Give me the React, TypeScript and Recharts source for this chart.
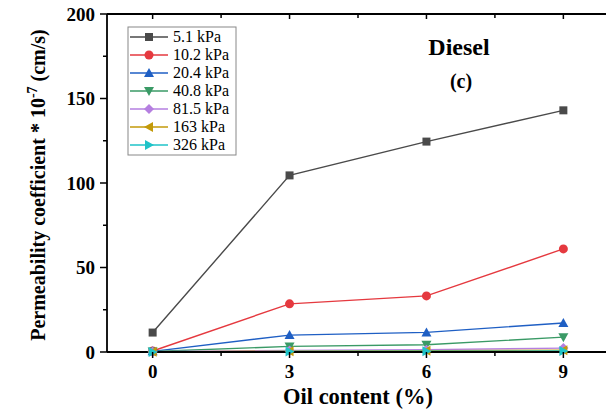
import React from "react";
import { LineChart, Line, XAxis, YAxis, Customized } from "recharts";

// oil content (%) on the x axis
const oilContent = [0, 3, 6, 9];

// permeability coefficient * 1e-7 cm/s, one array per consolidation pressure
const k5_1 = [11.5, 104.5, 124.5, 143];
const k10_2 = [0.6, 28.5, 33.2, 61];
const k20_4 = [0.4, 10, 11.6, 17.2];
const k40_8 = [0.3, 3.3, 4.3, 8.8];
const k81_5 = [0.2, 0.9, 1.4, 2.3];
const k163 = [0.1, 0.5, 0.8, 1.1];
const k326 = [0.05, 0.3, 0.4, 0.6];

const xTicks = [0, 1.5, 3, 4.5, 6, 7.5, 9];
const yTicks = [0, 25, 50, 75, 100, 125, 150, 175, 200];

type Shape = "square" | "circle" | "up" | "down" | "diamond" | "left" | "right";

const series: { key: string; name: string; color: string; shape: Shape; values: number[] }[] = [
  { key: "p1", name: "5.1 kPa", color: "#4a4a4a", shape: "square", values: k5_1 },
  { key: "p2", name: "10.2 kPa", color: "#e5393f", shape: "circle", values: k10_2 },
  { key: "p3", name: "20.4 kPa", color: "#1f5fc4", shape: "up", values: k20_4 },
  { key: "p4", name: "40.8 kPa", color: "#3a9a66", shape: "down", values: k40_8 },
  { key: "p5", name: "81.5 kPa", color: "#b57fe0", shape: "diamond", values: k81_5 },
  { key: "p6", name: "163 kPa", color: "#c39a0a", shape: "left", values: k163 },
  { key: "p7", name: "326 kPa", color: "#1fc3c8", shape: "right", values: k326 },
];

const data = oilContent.map((x, i) => {
  const row: Record<string, number> = { x };
  series.forEach((s) => (row[s.key] = s.values[i]));
  return row;
});

const serif = { fontFamily: "'Liberation Serif', 'Times New Roman', serif" };

const Marker = ({ shape, cx, cy, color }: { shape: Shape; cx: number; cy: number; color: string }) => {
  switch (shape) {
    case "square":
      return <rect x={cx - 4} y={cy - 4} width={8} height={8} fill={color} />;
    case "circle":
      return <circle cx={cx} cy={cy} r={4.5} fill={color} />;
    case "up":
      return <polygon points={`${cx},${cy - 5} ${cx + 5},${cy + 4} ${cx - 5},${cy + 4}`} fill={color} />;
    case "down":
      return <polygon points={`${cx},${cy + 5} ${cx + 5},${cy - 4} ${cx - 5},${cy - 4}`} fill={color} />;
    case "diamond":
      return <polygon points={`${cx},${cy - 5} ${cx + 5},${cy} ${cx},${cy + 5} ${cx - 5},${cy}`} fill={color} />;
    case "left":
      return <polygon points={`${cx - 5},${cy} ${cx + 4},${cy - 5} ${cx + 4},${cy + 5}`} fill={color} />;
    case "right":
      return <polygon points={`${cx + 5},${cy} ${cx - 4},${cy - 5} ${cx - 4},${cy + 5}`} fill={color} />;
  }
  return null;
};

const isMajorX = (v: number) => v % 3 === 0;
const isMajorY = (v: number) => v % 50 === 0;

const BottomTick = ({ x, y, payload }: any) => {
  const major = isMajorX(payload.value);
  return (
    <g>
      <line x1={x} x2={x} y1={y} y2={y + (major ? 6 : 4)} stroke="#000" strokeWidth={1.5} />
      {major && (
        <text x={x} y={y + 26} textAnchor="middle" style={serif} fontWeight="bold" fontSize={19} fill="#000">
          {payload.value}
        </text>
      )}
    </g>
  );
};

const TopTick = ({ x, y, payload }: any) => (
  <line x1={x} x2={x} y1={y} y2={y + (isMajorX(payload.value) ? 5 : 4)} stroke="#000" strokeWidth={1.5} />
);

const LeftTick = ({ x, y, payload }: any) => {
  const major = isMajorY(payload.value);
  return (
    <g>
      <line x1={x - (major ? 7 : 4)} x2={x} y1={y} y2={y} stroke="#000" strokeWidth={1.5} />
      {major && (
        <text x={x - 12} y={y + 6.5} textAnchor="end" style={serif} fontWeight="bold" fontSize={19} fill="#000">
          {payload.value}
        </text>
      )}
    </g>
  );
};

const RightTick = ({ x, y, payload }: any) => (
  <line x1={x - (isMajorY(payload.value) ? 5 : 4)} x2={x} y1={y} y2={y} stroke="#000" strokeWidth={1.5} />
);

// axis titles, panel caption and the boxed legend
const Annotations = () => (
  <g style={serif} fill="#000">
    <text transform="translate(45,185) rotate(-90)" textAnchor="middle" fontWeight="bold" fontSize={20} style={serif}>
      Permeability coefficient * 10
      <tspan dy={-8} fontSize={14}>-7</tspan>
      <tspan dy={8}> (cm/s)</tspan>
    </text>
    <text x={358} y={404} textAnchor="middle" fontWeight="bold" fontSize={22.5} style={serif}>
      Oil content (%)
    </text>
    <text x={459} y={55} textAnchor="middle" fontWeight="bold" fontSize={24} style={serif}>
      Diesel
    </text>
    <text x={461} y={88} textAnchor="middle" fontWeight="bold" fontSize={20} style={serif}>
      (c)
    </text>
    <rect x={128} y={27} width={108} height={128} fill="#fff" stroke="#888" strokeWidth={1} />
    {series.map((s, i) => {
      const cy = 37 + i * 18;
      return (
        <g key={s.key}>
          <line x1={130} x2={168} y1={cy} y2={cy} stroke={s.color} strokeWidth={1.5} />
          <Marker shape={s.shape} cx={149} cy={cy} color={s.color} />
          <text x={173} y={cy + 5} fontSize={16} style={serif}>
            {s.name}
          </text>
        </g>
      );
    })}
  </g>
);

export default function App() {
  return (
    <div
      style={{
        position: "fixed",
        left: 0,
        top: 0,
        width: 606,
        height: 415,
        overflow: "hidden",
        background: "#fff",
      }}
    >
      <LineChart width={620} height={415} data={data} margin={{ top: 0, right: 0, bottom: 0, left: 0 }}>
        <XAxis
          dataKey="x"
          type="number"
          domain={[-1, 10]}
          ticks={xTicks}
          height={63}
          tickSize={0}
          tickMargin={0}
          tickLine={false}
          tick={BottomTick}
          axisLine={{ stroke: "#000", strokeWidth: 1.8 }}
          interval={0}
        />
        <XAxis
          xAxisId="top"
          orientation="top"
          dataKey="x"
          type="number"
          domain={[-1, 10]}
          ticks={xTicks}
          height={14}
          tickSize={0}
          tickMargin={0}
          tickLine={false}
          tick={TopTick}
          axisLine={{ stroke: "#000", strokeWidth: 1.8 }}
          interval={0}
        />
        <YAxis
          type="number"
          domain={[0, 200]}
          ticks={yTicks}
          width={107}
          tickSize={0}
          tickMargin={0}
          tickLine={false}
          tick={LeftTick}
          axisLine={{ stroke: "#000", strokeWidth: 1.8 }}
          interval={0}
        />
        <YAxis
          yAxisId="right"
          orientation="right"
          type="number"
          domain={[0, 200]}
          ticks={yTicks}
          width={11}
          tickSize={0}
          tickMargin={0}
          tickLine={false}
          tick={RightTick}
          axisLine={{ stroke: "#000", strokeWidth: 1.8 }}
          interval={0}
        />
        {series.map((s) => (
          <Line
            key={s.key}
            dataKey={s.key}
            name={s.name}
            stroke={s.color}
            strokeWidth={1.4}
            isAnimationActive={false}
            dot={(p: any) => <Marker key={`${s.key}-${p.index}`} shape={s.shape} cx={p.cx} cy={p.cy} color={s.color} />}
            activeDot={false}
          />
        ))}
        <Customized component={Annotations} />
      </LineChart>
    </div>
  );
}
